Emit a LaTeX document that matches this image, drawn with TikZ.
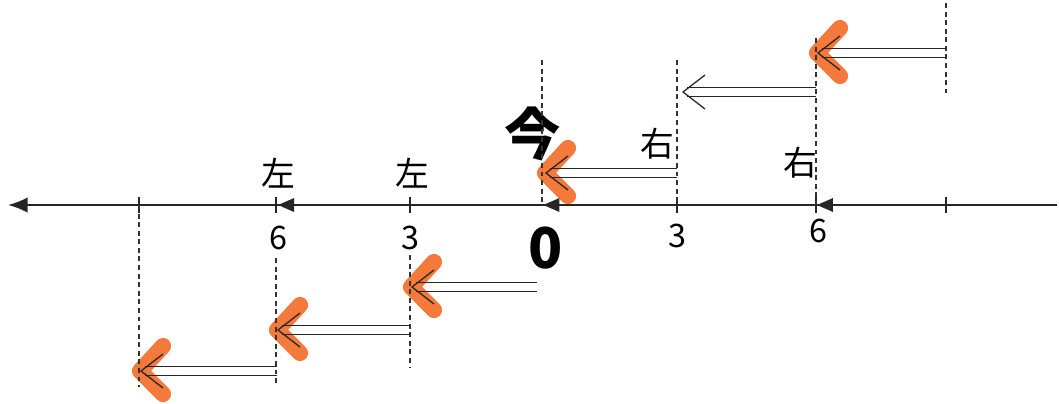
\documentclass[tikz,border=0pt]{standalone}
\usepackage{fontspec}
\setmainfont{Noto Sans CJK JP}
\usetikzlibrary{arrows.meta}
\definecolor{marker}{RGB}{243,122,58}
\tikzset{
  axisline/.style={line width=1.3pt, draw=black!85},
  guide/.style={line width=0.9pt, dash pattern=on 3.5pt off 2.6pt, draw=black!80},
  tickmark/.style={line width=1.1pt, draw=black!85},
  rail/.style={line width=0.8pt, draw=black!85},
  head/.style={line width=0.9pt, draw=black!85, line join=miter},
  hilite/.style={line width=11.5pt, draw=marker, line cap=round, line join=round},
  tri/.style={fill=black!85},
  kanji/.style={font=\fontsize{24}{24}\selectfont, inner sep=0pt},
  num/.style={font=\fontsize{23}{23}\selectfont, inner sep=0pt},
  big/.style={font=\fontsize{40}{40}\selectfont\bfseries, inner sep=0pt},
}

\begin{document}
\begin{tikzpicture}[x=0.025cm, y=-0.025cm]
  \useasboundingbox (0,0) rectangle (1059,403);
  % points on the line
  \coordinate (L9) at (139,205);
  \coordinate (L6) at (276,205);
  \coordinate (L3) at (410,205);
  \coordinate (Z)  at (542,205);
  \coordinate (R3) at (677,205);
  \coordinate (R6) at (816,205);
  \coordinate (R9) at (946,205);
  \coordinate (lineE) at (1057,205);
  \coordinate (lineW) at (8,205);
  % jumps: tail and tip
  \coordinate (a1-tail) at (677,173); \coordinate (a1-tip) at (546,173);
  \coordinate (a2-tail) at (816,92);  \coordinate (a2-tip) at (683,92);
  \coordinate (a3-tail) at (946,53);  \coordinate (a3-tip) at (818,53);
  \coordinate (b1-tail) at (537,287); \coordinate (b1-tip) at (412,287);
  \coordinate (b2-tail) at (410,330); \coordinate (b2-tip) at (278,330);
  \coordinate (b3-tail) at (277,371); \coordinate (b3-tip) at (141,371);

  \node[big] (now) at (533,134) {今};

  % marker strokes
  \foreach \a in {a1,a3,b1,b2,b3}
    \draw[hilite] ([shift={(22,-25)}]\a-tip) -- ([shift={(-1,0)}]\a-tip) -- ([shift={(22,23)}]\a-tip);

  % number line
  \draw[axisline, -{Latex[length=14pt, width=11pt]}] (lineE) -- (lineW);
  \foreach \p in {L9,L6,L3,R3,R6,R9}
    \draw[tickmark] ([yshift=-5.5pt]\p) -- ([yshift=5.5pt]\p);
  \fill[tri] ([xshift=1.5pt]L6) -- ++(16,-7) -- ++(0,14) -- cycle;
  \fill[tri] ([xshift=1pt]Z) -- ++(16,-7) -- ++(0,14) -- cycle;
  \fill[tri] ([xshift=0.7pt]R6) -- ++(16,-7) -- ++(0,14) -- cycle;

  % guides
  \draw[guide] (542,60) -- (Z);
  \draw[guide] (677,60) -- (R3);
  \draw[guide] (816,38) -- (R6);
  \draw[guide] (946,3) -- (946,93);
  \draw[guide] (410,255) -- (410,367);
  \draw[guide] (276,258) -- (276,385);
  \draw[guide] (L9) -- (139,387);

  % double arrows
  \foreach \a in {a1,a2,a3,b1,b2,b3} {
    \draw[rail] ([yshift=3.5pt]\a-tail) -- ([xshift=3pt,yshift=3.5pt]\a-tip);
    \draw[rail] ([yshift=-3.5pt]\a-tail) -- ([xshift=3pt,yshift=-3.5pt]\a-tip);
    \draw[head] ([shift={(22,-17)}]\a-tip) -- (\a-tip) -- ([shift={(22,17)}]\a-tip);
  }

  % labels
  \node[kanji] (left6) at (278,173) {左};
  \node[kanji] (left3) at (412,173) {左};
  \node[kanji] (right3) at (657,144) {右};
  \node[kanji] (right6) at (800,163) {右};
  \node[num] (n6l) at (278,238) {6};
  \node[num] (n3l) at (410,238) {3};
  \node[big] (n0) at (546,248) {0};
  \node[num] (n3r) at (677,236) {3};
  \node[num] (n6r) at (818,231) {6};
\end{tikzpicture}
\end{document}
